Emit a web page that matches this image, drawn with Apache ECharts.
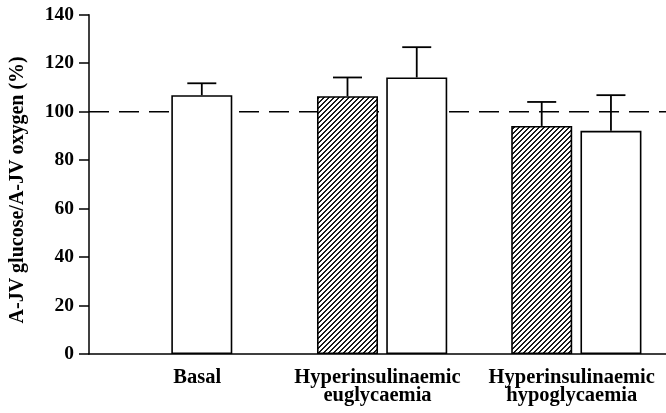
<!DOCTYPE html>
<html>
<head>
<meta charset="utf-8">
<script src="https://cdn.jsdelivr.net/npm/echarts@6/dist/echarts.min.js"></script>
<style>
html,body{margin:0;padding:0;background:#fff;}
#chart{width:666px;height:413px;}
</style>
</head>
<body>
<div id="chart"></div>
<script>
// ---- data ----
var categories = ['Basal', 'Hyperinsulinaemic\neuglycaemia', 'Hyperinsulinaemic\nhypoglycaemia'];
var hatchedMeans = [null, 106.4, 94.1];
var hatchedSem = [null, 7.7, 9.9];
var openMeans = [106.8, 114.1, 92.1];
var openSem = [4.9, 12.5, 14.7];
var yTicks = [0, 20, 40, 60, 80, 100, 120, 140];
var referenceLevel = 100;

// ---- layout (x axis units, 0..10) ----
var groupCenters = [1.955, 5.08, 8.446];
var labelShift = -0.08;
var pairOffset = 0.6;
var FONT = '"Liberation Serif", "Times New Roman", serif';

// hatch pattern
function makeHatch() {
  var p = 5, c = document.createElement('canvas');
  c.width = p; c.height = p;
  var ctx = c.getContext('2d');
  var img = ctx.createImageData(p, p);
  for (var y = 0; y < p; y++) for (var x = 0; x < p; x++) {
    var dark = ((x + y) % p) < 2;
    var i = (y * p + x) * 4;
    var v = dark ? 25 : 255;
    img.data[i] = v; img.data[i+1] = v; img.data[i+2] = v; img.data[i+3] = 255;
  }
  ctx.putImageData(img, 0, 0);
  return c;
}
var hatch = makeHatch();

var barData = [];
var errData = [];
for (var g = 0; g < categories.length; g++) {
  var hasHatch = hatchedMeans[g] != null;
  if (hasHatch) {
    var xh = groupCenters[g] - pairOffset;
    barData.push({ value: [xh, hatchedMeans[g]], itemStyle: { color: { image: hatch, repeat: 'repeat' } } });
    errData.push([xh, hatchedMeans[g], hatchedMeans[g] + hatchedSem[g]]);
  }
  var xo = hasHatch ? groupCenters[g] + pairOffset : groupCenters[g];
  barData.push({ value: [xo, openMeans[g]], itemStyle: { color: '#ffffff' } });
  errData.push([xo, openMeans[g], openMeans[g] + openSem[g]]);
}
var labelValues = groupCenters.map(function (c) { return c + labelShift; });

var chart = echarts.init(document.getElementById('chart'), null, { renderer: 'canvas' });
chart.setOption({
  animation: false,
  backgroundColor: '#ffffff',
  grid: { left: 88, right: 0, top: 14.7, bottom: 59, containLabel: false },
  xAxis: {
    type: 'value', min: 0, max: 10,
    splitLine: { show: false },
    axisLine: { show: true, onZero: false, lineStyle: { color: '#000', width: 1.5 } },
    axisTick: { show: false },
    axisLabel: {
      customValues: labelValues,
      formatter: function (v) {
        for (var i = 0; i < labelValues.length; i++) {
          if (Math.abs(labelValues[i] - v) < 1e-6) return categories[i];
        }
        return '';
      },
      color: '#000', fontFamily: FONT, fontWeight: 'bold', fontSize: 20.5,
      lineHeight: 18, margin: 15, align: 'center'
    }
  },
  yAxis: {
    type: 'value', min: 0, max: 140, interval: 20,
    name: 'A-JV glucose/A-JV oxygen (%)',
    nameLocation: 'middle', nameGap: 61,
    nameTextStyle: { color: '#000', fontFamily: FONT, fontWeight: 'bold', fontSize: 20, padding: [0, 11, 0, 0] },
    splitLine: { show: false },
    axisLine: { show: true, lineStyle: { color: '#000', width: 1.5 } },
    axisTick: { show: true, length: 10, lineStyle: { color: '#000', width: 1.5 } },
    axisLabel: { color: '#000', fontFamily: FONT, fontWeight: 'bold', fontSize: 19.5, margin: 15,
      padding: [5, 0, 0, 0],
      formatter: function (v) { return yTicks.indexOf(v) >= 0 ? String(v) : ''; } }
  },
  series: [
    {
      type: 'line', z: 1, symbol: 'none', silent: true,
      data: [[0, referenceLevel], [10, referenceLevel]],
      lineStyle: { color: '#000', width: 1.5, type: [20, 10] }
    },
    {
      type: 'bar', z: 3, barWidth: 61,
      data: barData,
      itemStyle: { borderColor: '#000', borderWidth: 1.6 }
    },
    {
      type: 'custom', z: 4,
      data: errData,
      renderItem: function (params, api) {
        var top = api.coord([api.value(0), api.value(2)]);
        var base = api.coord([api.value(0), api.value(1)]);
        var half = 14.5;
        var st = { stroke: '#000', lineWidth: 1.8 };
        return { type: 'group', children: [
          { type: 'line', shape: { x1: base[0], y1: base[1], x2: top[0], y2: top[1] }, style: st },
          { type: 'line', shape: { x1: top[0] - half, y1: top[1], x2: top[0] + half, y2: top[1] }, style: st }
        ] };
      }
    }
  ]
});
</script>
</body>
</html>
